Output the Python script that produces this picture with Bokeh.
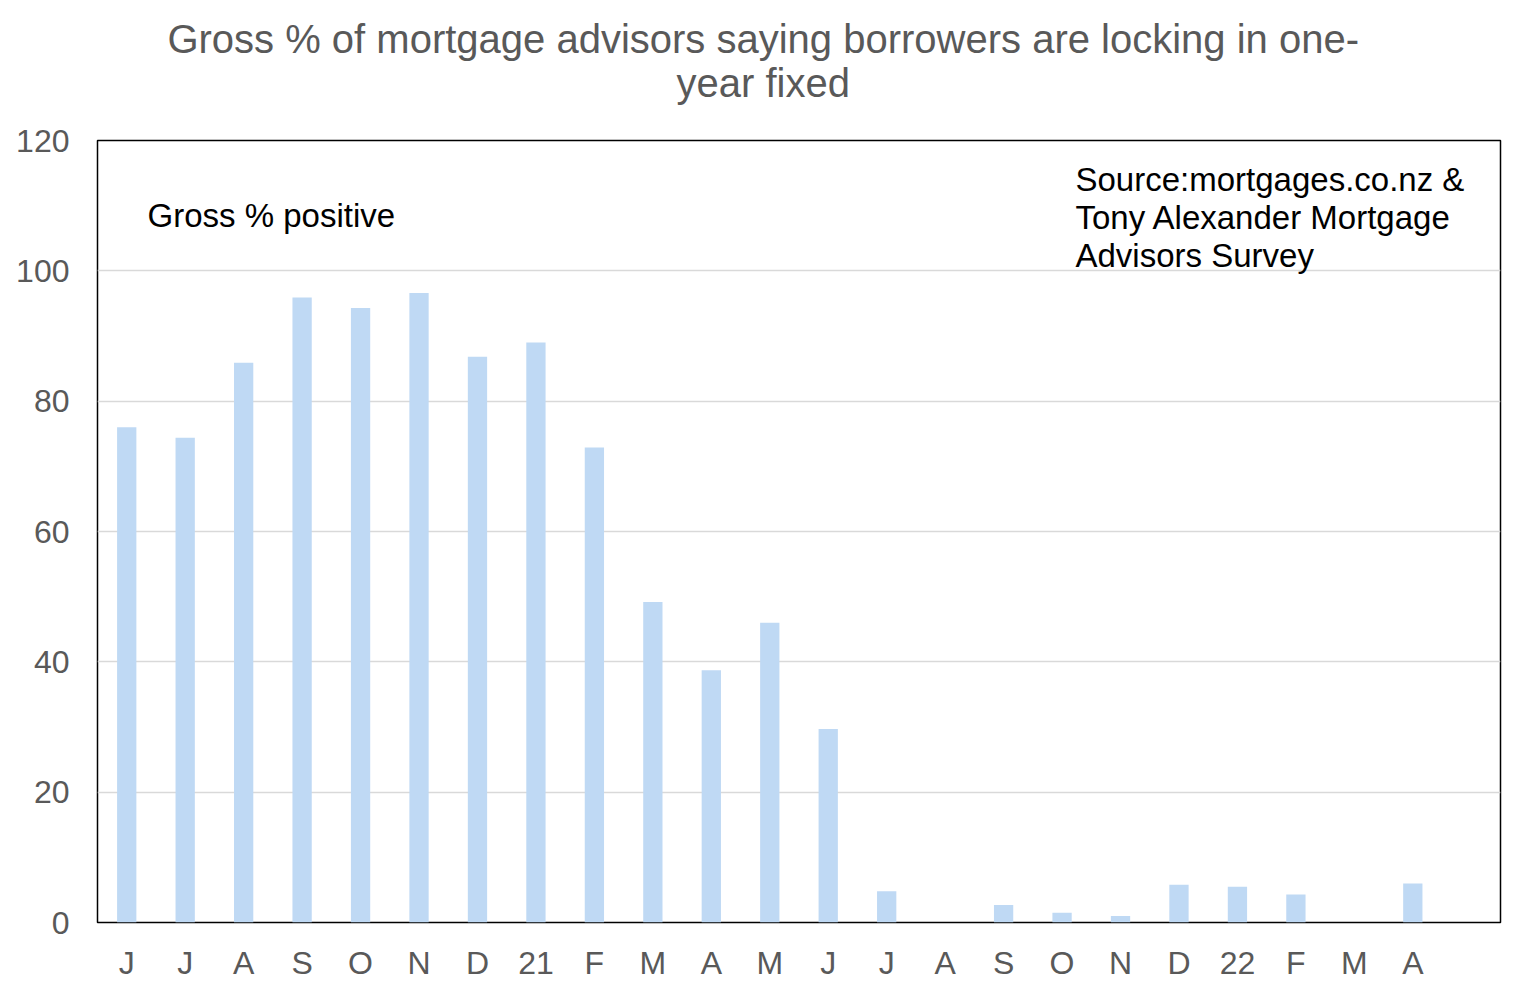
from bokeh.plotting import figure
from bokeh.layouts import column
from bokeh.models import Range1d, FixedTicker, Label
from bokeh.embed import file_html
from bokeh.resources import INLINE

months = ["J", "J", "A", "S", "O", "N", "D", "21", "F", "M", "A", "M",
          "J", "J", "A", "S", "O", "N", "D", "22", "F", "M", "A"]
gross_positive = [76.0, 74.4, 85.9, 95.9, 94.3, 96.6, 86.8, 89.0, 72.9, 49.2, 38.7, 46.0,
                  29.7, 4.8, 0.0, 2.7, 1.5, 1.0, 5.8, 5.5, 4.3, 0.0, 6.0]
y_ticks = [0, 20, 40, 60, 80, 100, 120]
title_lines = ["Gross % of mortgage advisors saying borrowers are locking in one-", "year fixed"]
src_lines = ["Source:mortgages.co.nz  &", "Tony Alexander  Mortgage", "Advisors Survey"]

FONT = "Liberation Sans"
GREY = "#595959"
W = 1509

# ---- title strip (separate small figure) ----
t = figure(width=W, height=120, output_backend="svg", toolbar_location=None,
           x_range=Range1d(0, W), y_range=Range1d(0, 120),
           x_axis_type=None, y_axis_type=None,
           min_border=0, min_border_left=0, min_border_right=0,
           min_border_top=0, min_border_bottom=0)
t.outline_line_color = None
t.grid.visible = False
t.background_fill_color = "white"
t.border_fill_color = "white"
for line, yy in zip(title_lines, [82, 38]):
    t.add_layout(Label(x=716, y=yy, text=line, text_font=FONT, text_font_size="40px",
                       text_color=GREY, text_align="center", text_baseline="alphabetic"))

# ---- main chart ----
xs = list(range(len(months)))

p = figure(width=W, height=864, output_backend="svg", toolbar_location=None,
           x_range=Range1d(-0.5, 23.5), y_range=Range1d(0, 120),
           min_border_left=97, min_border_right=9, min_border_bottom=62, min_border_top=20)

p.vbar(x=xs, top=gross_positive, width=0.33, fill_color="#BFD9F4", line_color=None)

p.yaxis.ticker = FixedTicker(ticks=y_ticks)
p.yaxis.axis_line_color = None
p.yaxis.major_tick_line_color = None
p.yaxis.minor_tick_line_color = None
p.yaxis.major_label_text_font = FONT
p.yaxis.major_label_text_font_size = "32px"
p.yaxis.major_label_text_color = GREY
p.yaxis.major_label_standoff = 22

p.xaxis.ticker = FixedTicker(ticks=xs)
p.xaxis.major_label_overrides = {i: m for i, m in zip(xs, months)}
p.xaxis.axis_line_color = None
p.xaxis.major_tick_line_color = None
p.xaxis.minor_tick_line_color = None
p.xaxis.major_label_text_font = FONT
p.xaxis.major_label_text_font_size = "32px"
p.xaxis.major_label_text_color = GREY
p.xaxis.major_label_standoff = 16

p.xgrid.grid_line_color = None
p.ygrid.ticker = FixedTicker(ticks=y_ticks)
p.ygrid.grid_line_color = "#D9D9D9"
p.ygrid.grid_line_width = 1.5

p.outline_line_color = "black"
p.outline_line_width = 1.5
p.background_fill_color = "white"
p.border_fill_color = "white"

p.add_layout(Label(x=0.355, y=108.5, text="Gross % positive", text_font=FONT,
                   text_font_size="33px", text_color="black", text_baseline="alphabetic"))
for line, yy in zip(src_lines, [114.05, 108.2, 102.4]):
    p.add_layout(Label(x=16.23, y=yy, text=line, text_font=FONT, text_font_size="33px",
                       text_color="black", text_baseline="alphabetic"))

layout = column(t, p, spacing=0)
open("out.html", "w").write(file_html(layout, INLINE))
